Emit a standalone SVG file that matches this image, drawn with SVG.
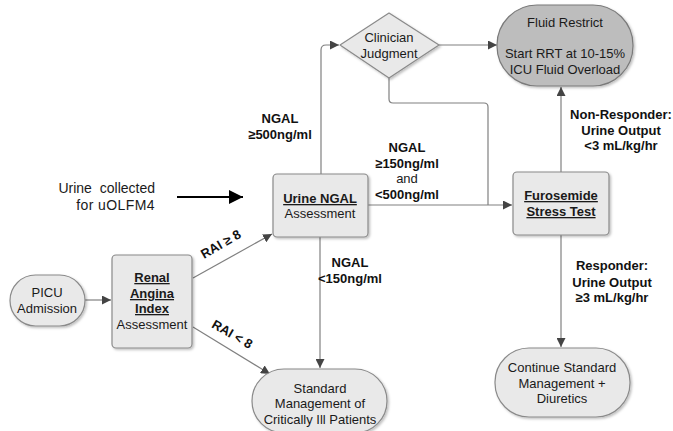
<svg xmlns="http://www.w3.org/2000/svg" width="673" height="431" viewBox="0 0 673 431">
<defs>
<style>
.node{fill:#e9e9e9;stroke:#8a8a8a;stroke-width:1.2;}
.dark{fill:#bdbdbd;stroke:#7a7a7a;stroke-width:1.2;}
.t{font-family:"Liberation Sans",Arial,sans-serif;font-size:13px;fill:#1a1a1a;text-anchor:middle;}
.b{font-weight:bold;}
.u{text-decoration:underline;}
.lbl{font-family:"Liberation Sans",Arial,sans-serif;font-size:13px;font-weight:bold;fill:#111;text-anchor:middle;}
.side{font-family:"Liberation Sans",Arial,sans-serif;font-size:14px;fill:#1a1a1a;text-anchor:end;}
.c{fill:none;stroke:#808080;stroke-width:1.2;}
</style>
<marker id="ah" viewBox="0 0 10 10" refX="10" refY="5" markerWidth="9" markerHeight="9" markerUnits="userSpaceOnUse" orient="auto">
<path d="M0,0 L10,5 L0,10 z" fill="#444"/>
</marker>
<marker id="ahk" viewBox="0 0 10 10" refX="10" refY="5" markerWidth="14" markerHeight="14" markerUnits="userSpaceOnUse" orient="auto">
<path d="M0,0 L10,5 L0,10 z" fill="#000"/>
</marker>
<filter id="sh" x="-10%" y="-10%" width="125%" height="130%">
<feDropShadow dx="1.5" dy="1.5" stdDeviation="1" flood-color="#000" flood-opacity="0.25"/>
</filter>
</defs>
<rect width="673" height="431" fill="#fff"/>

<g id="connectors">
<path class="c" d="M85,300 H111" marker-end="url(#ah)"/>
<path class="c" d="M193,278 L272,234" marker-end="url(#ah)"/>
<path class="c" d="M193,327 L270,374" marker-end="url(#ah)"/>
<path class="c" d="M320,237 V368" marker-end="url(#ah)"/>
<path class="c" d="M321,174 V50 Q321,45 326,45 H339" marker-end="url(#ah)"/>
<path class="c" d="M439,45 H497" marker-end="url(#ah)"/>
<path class="c" d="M389,78 V99 Q389,103 393,103 H484 Q488,103 488,107 V205"/>
<path class="c" d="M368,205 H512" marker-end="url(#ah)"/>
<path class="c" d="M561,172 V87" marker-end="url(#ah)"/>
<path class="c" d="M561,235 V347" marker-end="url(#ah)"/>
<path d="M177,197 H243" fill="none" stroke="#000" stroke-width="2.2" marker-end="url(#ahk)"/>
</g>

<g id="labels">
<text class="lbl" transform="translate(223,248) rotate(-30)">RAI ≥ 8</text>
<text class="lbl" transform="translate(230,338) rotate(30)">RAI &lt; 8</text>
<text class="lbl" x="280" y="123">NGAL</text>
<text class="lbl" x="280" y="139">≥500ng/ml</text>
<text class="lbl" x="407" y="152">NGAL</text>
<text class="lbl" x="407" y="168">≥150ng/ml</text>
<text class="t" x="407" y="183">and</text>
<text class="lbl" x="407" y="199">&lt;500ng/ml</text>
<text class="lbl" x="350" y="267">NGAL</text>
<text class="lbl" x="350" y="283">&lt;150ng/ml</text>
<text class="lbl" x="621" y="119">Non-Responder:</text>
<text class="lbl" x="621" y="135">Urine Output</text>
<text class="lbl" x="621" y="150">&lt;3 mL/kg/hr</text>
<text class="lbl" x="612" y="270">Responder:</text>
<text class="lbl" x="612" y="287">Urine Output</text>
<text class="lbl" x="612" y="302">≥3 mL/kg/hr</text>
<text class="side" x="155" y="193" word-spacing="4">Urine collected</text>
<text class="side" x="155" y="210" letter-spacing="0.4">for uOLFM4</text>
</g>

<g id="picu">
<rect class="node" x="10" y="275" width="75" height="51" rx="25.5" filter="url(#sh)"/>
<text class="t" x="47" y="297">PICU</text>
<text class="t" x="47" y="313">Admission</text>
</g>

<g id="rai">
<rect class="node" x="112" y="255" width="80" height="93" rx="4" filter="url(#sh)"/>
<text class="t b u" x="152" y="282">Renal</text>
<text class="t b u" x="152" y="298">Angina</text>
<text class="t b u" x="152" y="313">Index</text>
<text class="t" x="152" y="329">Assessment</text>
</g>

<g id="ngal">
<rect class="node" x="273" y="174" width="95" height="63" rx="4" filter="url(#sh)"/>
<text class="t b u" x="320" y="203">Urine NGAL</text>
<text class="t" x="320" y="218">Assessment</text>
</g>

<g id="clinician">
<path class="node" d="M389,13 L439,45 L389,78 L340,45 Z" stroke-linejoin="round" filter="url(#sh)"/>
<text class="t" x="389" y="42">Clinician</text>
<text class="t" x="389" y="58">Judgment</text>
</g>

<g id="fluid">
<rect class="dark" x="497" y="5" width="136" height="81" rx="40" filter="url(#sh)"/>
<text class="t" x="565" y="27">Fluid Restrict</text>
<text class="t" x="565" y="58">Start RRT at 10-15%</text>
<text class="t" x="565" y="74">ICU Fluid Overload</text>
</g>

<g id="fst">
<rect class="node" x="513" y="172" width="96" height="63" rx="4" filter="url(#sh)"/>
<text class="t b u" x="561" y="200">Furosemide</text>
<text class="t b u" x="561" y="216">Stress Test</text>
</g>

<g id="standard">
<rect class="node" x="252" y="369" width="135" height="64" rx="32" filter="url(#sh)"/>
<text class="t" x="320" y="393">Standard</text>
<text class="t" x="320" y="408">Management of</text>
<text class="t" x="320" y="424">Critically Ill Patients</text>
</g>

<g id="continue">
<rect class="node" x="495" y="348" width="135" height="69" rx="34" filter="url(#sh)"/>
<text class="t" x="562" y="372">Continue Standard</text>
<text class="t" x="562" y="388">Management +</text>
<text class="t" x="562" y="403">Diuretics</text>
</g>
</svg>
